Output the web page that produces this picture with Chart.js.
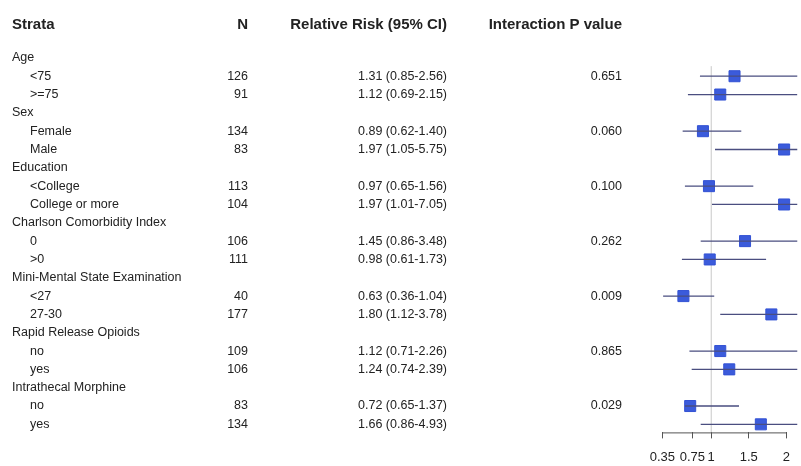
<!DOCTYPE html>
<html lang="en">
<head>
    <meta charset="UTF-8">
    <title>Forest plot</title>
    <script src="https://cdn.jsdelivr.net/npm/chart.js"></script>
    <style>
        body {
            margin: 0;
            background: #fff;
        }
        .wrap {
            width: 801px;
            height: 466px;
            position: relative;
        }
    </style>
</head>
<body>
    <div class="wrap"><canvas id="forest"></canvas></div>

    <script>
        // data
        const groups = ['Age', 'Sex', 'Education', 'Charlson Comorbidity Index',
            'Mini-Mental State Examination', 'Rapid Release Opioids', 'Intrathecal Morphine'];
        const subgroups = [['<75', '>=75'], ['Female', 'Male'], ['<College', 'College or more'],
            ['0', '>0'], ['<27', '27-30'], ['no', 'yes'], ['no', 'yes']];
        const nValues = [[126, 91], [134, 83], [113, 104], [106, 111], [40, 177], [109, 106], [83, 134]];
        const rrValues = [[1.31, 1.12], [0.89, 1.97], [0.97, 1.97], [1.45, 0.98], [0.63, 1.80], [1.12, 1.24], [0.72, 1.66]];
        const ciLower = [[0.85, 0.69], [0.62, 1.05], [0.65, 1.01], [0.86, 0.61], [0.36, 1.12], [0.71, 0.74], [0.65, 0.86]];
        const ciUpper = [[2.56, 2.15], [1.40, 5.75], [1.56, 7.05], [3.48, 1.73], [1.04, 3.78], [2.26, 2.39], [1.37, 4.93]];
        const pValues = ['0.651', '0.060', '0.100', '0.262', '0.009', '0.865', '0.029'];
        const xTicks = [0.35, 0.75, 1, 1.5, 2];
        const refValue = 1;

        // one row per group heading, then its two strata
        const rows = [];
        groups.forEach((g, gi) => {
            rows.push({ label: g, group: true, p: '' });
            subgroups[gi].forEach((s, si) => {
                rows.push({
                    label: s, group: false,
                    n: nValues[gi][si], rr: rrValues[gi][si],
                    lo: ciLower[gi][si], hi: ciUpper[gi][si],
                    p: si === 0 ? pValues[gi] : ''
                });
            });
        });

        const ciData = [];
        const pointData = [];
        rows.forEach((r, i) => {
            if (r.group) return;
            ciData.push({ x: r.lo, y: i }, { x: r.hi, y: i }, { x: null, y: null });
            pointData.push({ x: r.rr, y: i });
        });

        const txt = '#222';
        const regular = '12.5px "Liberation Sans", Arial, sans-serif';
        const bold = 'bold 15px "Liberation Sans", Arial, sans-serif';

        const tablePlugin = {
            id: 'table',
            beforeDatasetsDraw(chart) {
                const { ctx, chartArea, scales: { x, y } } = chart;
                const px = x.getPixelForValue(refValue);
                ctx.save();
                ctx.strokeStyle = '#c8c8c8';
                ctx.lineWidth = 1;
                ctx.beginPath();
                ctx.moveTo(px, y.getPixelForValue(0.45));
                ctx.lineTo(px, chartArea.bottom);
                ctx.stroke();
                ctx.restore();
            },
            afterDraw(chart) {
                const { ctx, chartArea, scales: { x, y } } = chart;
                ctx.save();
                // axis line only spans the tick range
                ctx.strokeStyle = '#555';
                ctx.lineWidth = 1;
                ctx.beginPath();
                ctx.moveTo(x.getPixelForValue(xTicks[0]), chartArea.bottom + 0.5);
                ctx.lineTo(x.getPixelForValue(xTicks[xTicks.length - 1]), chartArea.bottom + 0.5);
                ctx.stroke();

                ctx.fillStyle = txt;
                ctx.textBaseline = 'middle';
                const hy = y.getPixelForValue(-1.82);
                ctx.font = bold;
                ctx.textAlign = 'left';
                ctx.fillText('Strata', 12, hy);
                ctx.textAlign = 'right';
                ctx.fillText('N', 248, hy);
                ctx.fillText('Relative Risk (95% CI)', 447, hy);
                ctx.fillText('Interaction P value', 622, hy);

                ctx.font = regular;
                rows.forEach((r, i) => {
                    const ry = y.getPixelForValue(i);
                    ctx.textAlign = 'left';
                    ctx.fillText(r.label, r.group ? 12 : 30, ry);
                    if (r.group) return;
                    ctx.textAlign = 'right';
                    ctx.fillText(String(r.n), 248, ry);
                    ctx.fillText(r.rr.toFixed(2) + ' (' + r.lo.toFixed(2) + '-' + r.hi.toFixed(2) + ')', 447, ry);
                    if (r.p) ctx.fillText(r.p, 622, ry);
                });
                ctx.restore();
            }
        };

        new Chart(document.getElementById('forest'), {
            type: 'scatter',
            data: {
                datasets: [
                    {
                        type: 'line',
                        data: ciData,
                        borderColor: '#4a4e80',
                        borderWidth: 1.3,
                        pointRadius: 0,
                        spanGaps: false,
                        fill: false
                    },
                    {
                        data: pointData,
                        pointStyle: 'rect',
                        pointRadius: 7.8,
                        backgroundColor: '#3b5bdb',
                        borderColor: '#3352d4',
                        borderWidth: 1
                    }
                ]
            },
            options: {
                responsive: true,
                maintainAspectRatio: false,
                animation: false,
                layout: { autoPadding: false, padding: { left: 641, right: 0, top: 0, bottom: -10 } },
                plugins: { legend: { display: false }, tooltip: { enabled: false } },
                scales: {
                    x: {
                        type: 'linear',
                        min: 1 - 71 / 76,
                        max: 1 + 87 / 76,
                        afterBuildTicks: (s) => { s.ticks = xTicks.map(v => ({ value: v })); },
                        border: { display: false },
                        grid: { drawOnChartArea: false, drawTicks: true, tickLength: 6, color: '#555' },
                        ticks: {
                            padding: 11,
                            color: txt,
                            font: { family: '"Liberation Sans", Arial, sans-serif', size: 13 },
                            callback: (v) => String(v),
                            maxRotation: 0,
                            autoSkip: false
                        }
                    },
                    y: {
                        type: 'linear',
                        display: false,
                        reverse: true,
                        min: -3.16,
                        max: 20.44
                    }
                }
            },
            plugins: [tablePlugin]
        });
    </script>
</body>
</html>
